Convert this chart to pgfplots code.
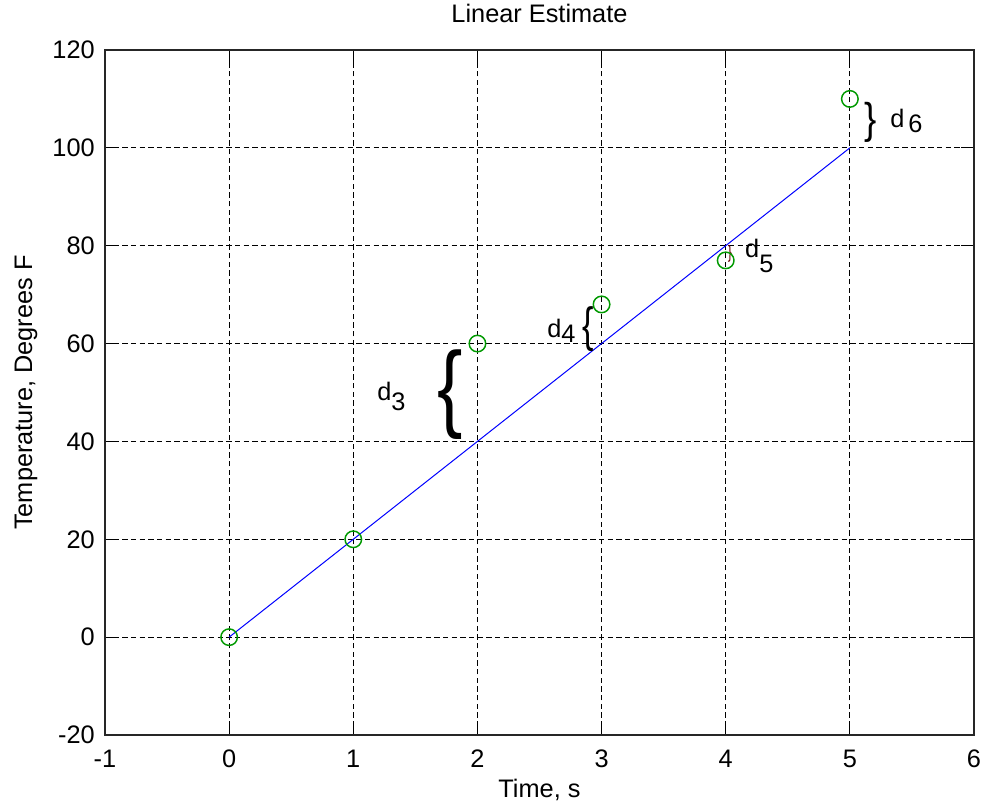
\documentclass[border=0pt]{standalone}
\usepackage{pgfplots}
\pgfplotsset{compat=1.18}
\usepackage{fontspec}
\setmainfont{Liberation Sans}
\definecolor{mgreen}{rgb}{0,0.6,0}
\begin{document}
\fontsize{19bp}{22bp}\selectfont
\begin{tikzpicture}
\useasboundingbox (-78.75bp,-52.5bp) rectangle (657bp,551.25bp);
\begin{axis}[
  at={(0,0)}, anchor=south west, scale only axis,
  width=651.75bp, height=513.75bp,
  xmin=-1, xmax=6, ymin=-20, ymax=120,
  xtick={-1,0,...,6}, ytick={-20,0,...,120},
  grid=major,
  grid style={black, line width=0.75bp, dash pattern=on 4bp off 2.5bp},
  axis line style={black!85, line width=0.9bp},
  tick align=inside, major tick length=10bp, tick style={black, line width=0.9bp},
  /pgf/number format/assume math mode=true,
  xticklabel style={anchor=base, yshift=-24bp, inner sep=0pt},
  yticklabel style={anchor=east, inner sep=0pt, xshift=-7.5bp},
  title={Linear Estimate},
  title style={at={(axis description cs:0.5,1)}, anchor=base, yshift=15bp, inner sep=0pt},
  xlabel={Time, s},
  xlabel style={at={(axis description cs:0.5,0)}, anchor=base, yshift=-46.5bp, inner sep=0pt},
  ylabel={Temperature, Degrees F},
  ylabel style={at={(axis description cs:-0.084,0.5)}, anchor=base, inner sep=0pt},
  clip=false,
]
\addplot[blue, line width=0.75bp] coordinates {(0,0) (5,100)};
\addplot[only marks, mark=o, mark size=6.2bp, color=mgreen, mark options={line width=1.1bp}]
  coordinates {(0,0) (1,20) (2,60) (3,68) (4,77) (5,110)};
% annotations
\node at (axis cs:1.779,49.5) {\scalebox{3.0}[3.8]{\{}};
\node[anchor=base west, inner sep=0pt] at (axis cs:1.191,48.4) {d\raisebox{-7.5bp}{3}};
\node at (axis cs:2.891,63.0) {\scalebox{1.35}[1.9]{\{}};
\node[anchor=base west, inner sep=0pt] at (axis cs:2.561,61.3) {d\raisebox{-3.75bp}{4}};
\node[text=black!60!red] at (axis cs:4.035,78.4) {\scalebox{0.5}[0.71]{\}}};
\node[anchor=base west, inner sep=0pt] at (axis cs:4.155,77.5) {d\raisebox{-11bp}{5}};
\node at (axis cs:5.171,105.3) {\scalebox{1.45}[1.7]{\}}};
\node[anchor=base west, inner sep=0pt] at (axis cs:5.324,104.2) {d\hspace{3bp}\raisebox{-3.75bp}{6}};
\end{axis}
\end{tikzpicture}
\end{document}
